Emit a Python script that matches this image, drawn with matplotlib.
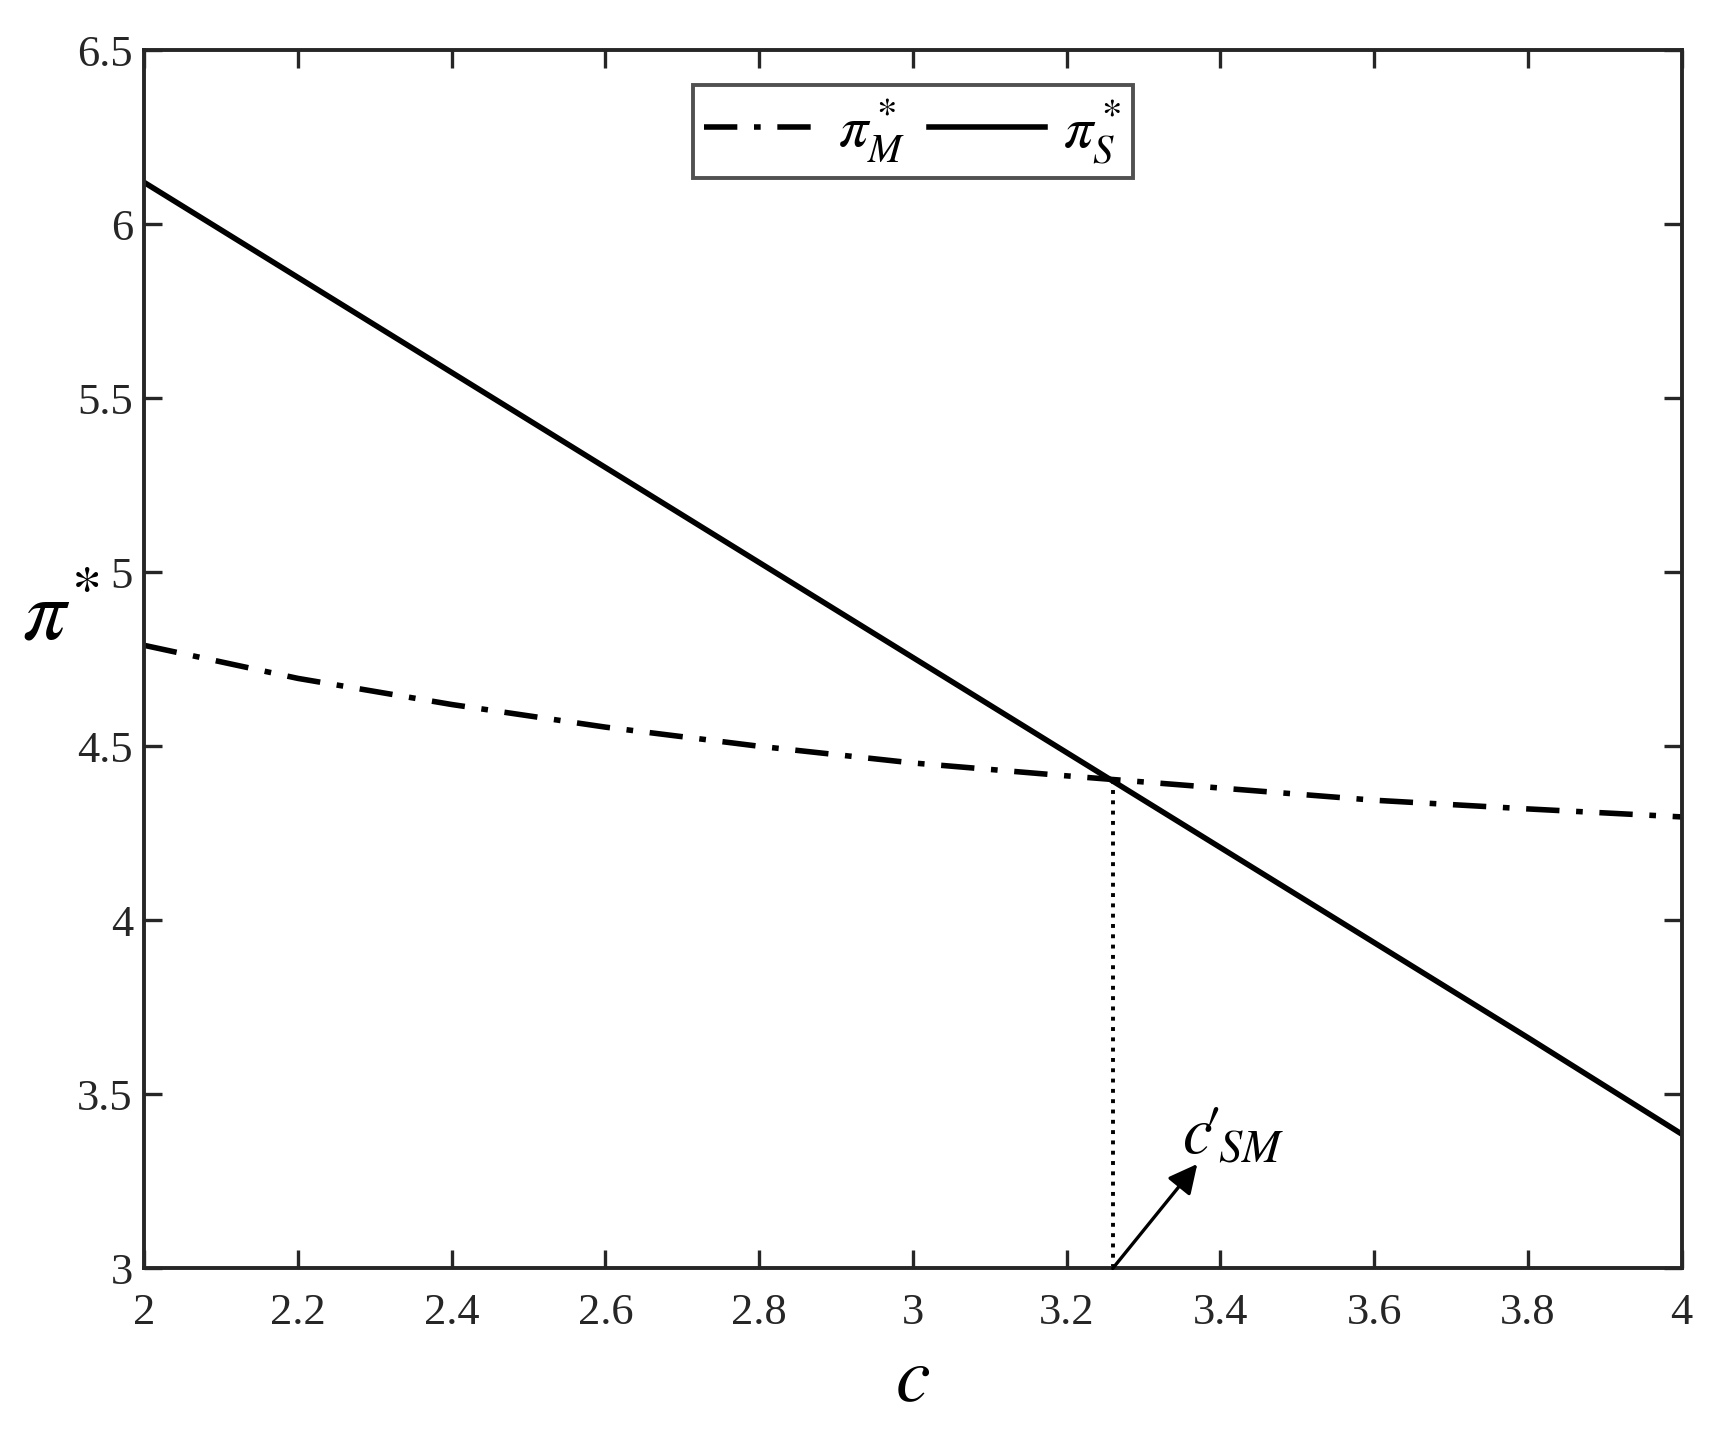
import matplotlib.pyplot as plt
import numpy as np

plt.rcParams['font.family'] = 'Liberation Serif'
plt.rcParams['mathtext.fontset'] = 'stix'

# values
c_vals = [2.0, 2.2, 2.4, 2.6, 2.8, 3.0, 3.2, 3.4, 3.6, 3.8, 4.0]
pi_M = [4.79, 4.695, 4.62, 4.555, 4.50, 4.452, 4.415, 4.38, 4.345, 4.32, 4.297]
pi_S = [6.12, 5.847, 5.574, 5.301, 5.028, 4.755, 4.482, 4.209, 3.936, 3.663, 3.386]
c_cross = 3.26
pi_cross = 4.40

fig, ax = plt.subplots(figsize=(8.615, 7.15), dpi=200)
fig.subplots_adjust(left=0.0836, right=0.976, top=0.965, bottom=0.113)

ax.plot(c_vals, pi_M, '-.', color='black', lw=2.0, label=r'$\pi^*_M$',
        dashes=(6, 3, 1.2, 3))
ax.plot(c_vals, pi_S, '-', color='black', lw=2.0, label=r'$\pi^*_S$')
ax.plot([c_cross, c_cross], [3, pi_cross], ':', color='black', lw=1.4)

ax.annotate('', xy=(3.37, 3.30), xytext=(c_cross, 3.0),
            arrowprops=dict(arrowstyle='-|>', color='black', lw=1.2,
                            mutation_scale=22, shrinkA=0, shrinkB=0))
ax.text(3.35, 3.29, r"$c\!\prime_{\!SM}$", fontsize=24, ha='left', va='bottom')

ax.set_xlim(2, 4)
ax.set_ylim(3, 6.5)
ax.set_xticks(np.arange(2, 4.01, 0.2))
ax.set_xticklabels(['2', '2.2', '2.4', '2.6', '2.8', '3', '3.2', '3.4', '3.6', '3.8', '4'])
ax.set_yticks(np.arange(3, 6.51, 0.5))
ax.set_yticklabels(['3', '3.5', '4', '4.5', '5', '5.5', '6', '6.5'])
ax.tick_params(direction='in', length=6.5, width=1.2, labelsize=16,
               top=True, right=True, color='#262626', labelcolor='#262626')
ax.tick_params(axis='y', pad=4)
ax.tick_params(axis='x', pad=9)
for s in ax.spines.values():
    s.set_linewidth(1.4)
    s.set_color('#262626')

ax.set_xlabel(r'$c$', fontsize=28)
ax.xaxis.set_label_coords(0.5, -0.064)
ax.set_ylabel(r'$\pi^{\!*}$', fontsize=31, rotation=0)
ax.yaxis.set_label_coords(-0.054, 0.50)

leg = ax.legend(loc='upper center', ncol=2, fontsize=21, frameon=True,
                fancybox=False, edgecolor='#262626', handlelength=2.0,
                handletextpad=0.3, columnspacing=0.4, borderpad=0.2,
                borderaxespad=0, bbox_to_anchor=(0.5, 0.971))
leg.get_frame().set_linewidth(1.4)

fig.savefig('out.png')
